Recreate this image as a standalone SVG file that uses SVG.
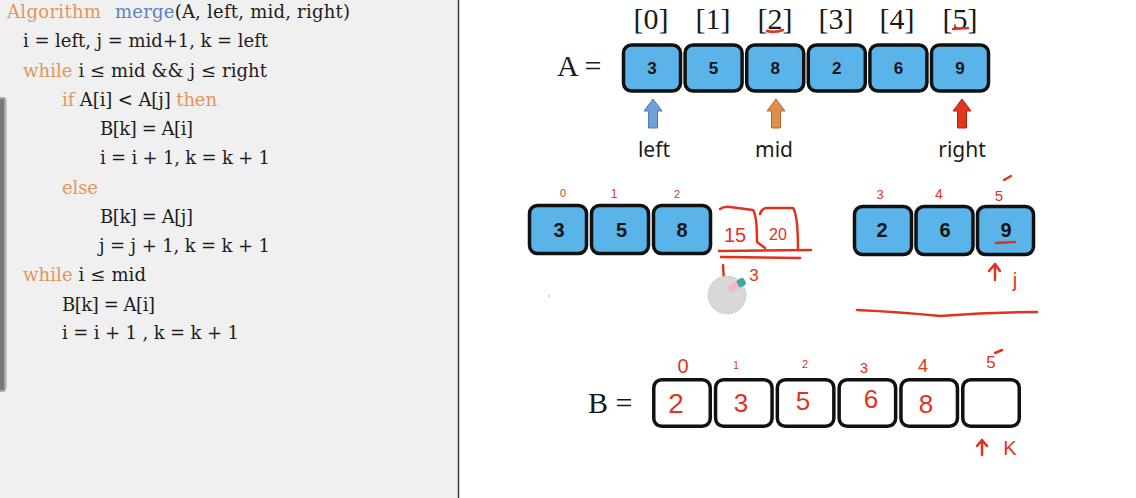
<svg xmlns="http://www.w3.org/2000/svg" width="1136" height="498" viewBox="0 0 1136 498">
<style>
.code{font-family:"DejaVu Serif","Liberation Serif",serif;font-size:18px;fill:#1c1c1c}
.kw{fill:#e3955c}
.fn{fill:#5b80c6}
.idx{font-family:"Liberation Serif",serif;font-size:30px;fill:#1a1a1a;text-anchor:middle}
.lbl{font-family:"Liberation Serif",serif;font-size:30px;fill:#1a1a1a}
.cell{fill:#5ab4ea;stroke:#111;stroke-width:3.5}
.wcell{fill:#fff;stroke:#111;stroke-width:3.5}
.num{font-family:"Liberation Sans",Arial,sans-serif;font-weight:bold;font-size:17px;fill:#141414;text-anchor:middle}
.num2{font-family:"Liberation Sans",Arial,sans-serif;font-weight:bold;font-size:20px;fill:#141414;text-anchor:middle}
.ptr{font-family:"Noto Sans","Liberation Sans",sans-serif;font-size:21px;fill:#1a1a1a;text-anchor:middle}
.hw{font-family:"Liberation Sans",Arial,sans-serif;fill:#e0321f;text-anchor:middle}
.ink{fill:none;stroke:#e0321f;stroke-width:2.5;stroke-linecap:round;stroke-linejoin:round}
</style>
<rect x="0" y="0" width="1136" height="498" fill="#ffffff"/>
<rect x="0" y="0" width="458" height="498" fill="#f0f0f0"/>
<line x1="458.5" y1="0" x2="458.5" y2="498" stroke="#3a3a3a" stroke-width="1.5"/>
<path d="M0,97 H3 Q6.5,97 6.5,101 V387 Q6.5,392 2,392 H0 Z" fill="#a9a9a9"/>
<rect x="0" y="99" width="4" height="291" fill="#787878"/>

<g id="code">
<text class="code kw" x="7" y="18" textLength="94">Algorithm</text>
<text class="code" x="115" y="18" textLength="235"><tspan class="fn">merge</tspan>(A, left, mid, right)</text>
<text class="code" x="23" y="47" textLength="245">i = left, j = mid+1, k = left</text>
<text class="code" x="23" y="77" textLength="244"><tspan class="kw">while</tspan> i ≤ mid &amp;&amp; j ≤ right</text>
<text class="code" x="62" y="106" textLength="155"><tspan class="kw">if</tspan> A[i] &lt; A[j] <tspan class="kw">then</tspan></text>
<text class="code" x="100" y="135" textLength="93">B[k] = A[i]</text>
<text class="code" x="100" y="164" textLength="170">i = i + 1, k = k + 1</text>
<text class="code kw" x="62" y="194" textLength="36">else</text>
<text class="code" x="100" y="223" textLength="93">B[k] = A[j]</text>
<text class="code" x="99" y="252" textLength="171">j = j + 1, k = k + 1</text>
<text class="code" x="23" y="281" textLength="123"><tspan class="kw">while</tspan> i ≤ mid</text>
<text class="code" x="62" y="311" textLength="93">B[k] = A[i]</text>
<text class="code" x="62" y="339" textLength="177">i = i + 1 , k = k + 1</text>
</g>

<g id="indexA">
<text class="idx" x="651" y="29">[0]</text>
<text class="idx" x="713" y="29">[1]</text>
<text class="idx" x="775" y="29">[2]</text>
<text class="idx" x="836" y="29">[3]</text>
<text class="idx" x="897" y="29">[4]</text>
<text class="idx" x="960" y="29">[5]</text>
<path class="ink" d="M767,31 Q775,33 783,30"/>
<path class="ink" d="M953,29 L968,28"/>
</g>

<text class="lbl" x="557" y="76">A =</text>
<g id="A0"><rect class="cell" x="623.5" y="45" width="57" height="46" rx="8"/><text class="num" x="652" y="74">3</text></g>
<g id="A1"><rect class="cell" x="685.1" y="45" width="57" height="46" rx="8"/><text class="num" x="713.6" y="74">5</text></g>
<g id="A2"><rect class="cell" x="746.7" y="45" width="57" height="46" rx="8"/><text class="num" x="775.2" y="74">8</text></g>
<g id="A3"><rect class="cell" x="808.3" y="45" width="57" height="46" rx="8"/><text class="num" x="836.8" y="74">2</text></g>
<g id="A4"><rect class="cell" x="869.9" y="45" width="57" height="46" rx="8"/><text class="num" x="898.4" y="74">6</text></g>
<g id="A5"><rect class="cell" x="931.5" y="45" width="57" height="46" rx="8"/><text class="num" x="960" y="74">9</text></g>

<g id="connectors">
<path d="M653,99 L662,111 L657.5,111 L657.5,128 L648.5,128 L648.5,111 L644,111 Z" fill="#6fa0d8" stroke="#4f7bb3" stroke-width="1"/>
<path d="M776,99 L785,111 L780.5,111 L780.5,128 L771.5,128 L771.5,111 L767,111 Z" fill="#e08e4c" stroke="#b56a2c" stroke-width="1"/>
<path d="M962,99 L971,111 L966.5,111 L966.5,128 L957.5,128 L957.5,111 L953,111 Z" fill="#e2341e" stroke="#a82412" stroke-width="1"/>
</g>
<g id="labels">
<text class="ptr" x="654" y="157">left</text>
<text class="ptr" x="774" y="157">mid</text>
<text class="ptr" x="962" y="157">right</text>
</g>

<g id="L0"><rect class="cell" x="529.5" y="205.5" width="57" height="48" rx="8"/><text class="num2" x="559" y="237">3</text></g>
<g id="L1"><rect class="cell" x="591.5" y="205.5" width="57" height="48" rx="8"/><text class="num2" x="621.5" y="237">5</text></g>
<g id="L2"><rect class="cell" x="653.5" y="205.5" width="57" height="48" rx="8"/><text class="num2" x="682" y="237">8</text></g>
<g id="R0"><rect class="cell" x="854.5" y="206.5" width="57" height="48" rx="8"/><text class="num2" x="882" y="237">2</text></g>
<g id="R1"><rect class="cell" x="916" y="206.5" width="57" height="48" rx="8"/><text class="num2" x="945" y="237">6</text></g>
<g id="R2"><rect class="cell" x="977.5" y="206.5" width="56" height="48" rx="8"/><text class="num2" x="1006" y="237">9</text></g>

<g id="annotations">
<text class="hw" x="563" y="197" font-size="11">0</text>
<text class="hw" x="614" y="198" font-size="12">1</text>
<text class="hw" x="677" y="198" font-size="11">2</text>
<text class="hw" x="880" y="199" font-size="13">3</text>
<text class="hw" x="939" y="199" font-size="14">4</text>
<text class="hw" x="999" y="201" font-size="15">5</text>
<path class="ink" d="M1004,180 L1011,176" stroke-width="1.8"/>
<path class="ink" d="M996,243 L1015,242"/>
<path class="ink" d="M720,209 Q724,206 730,207 L753,210 Q757,215 757,242 L765,248"/>
<path class="ink" d="M760,214 Q762,208 767,208 L793,208 Q798,215 798,250"/>
<text class="hw" x="735" y="242" font-size="20">15</text>
<text class="hw" x="778" y="240" font-size="16">20</text>
<path class="ink" d="M719,251 L811,250" stroke-width="3"/>
<path class="ink" d="M721,257 L800,258" stroke-width="2"/>
<path class="ink" d="M723,265 L724,282 L730,280"/>
<text class="hw" x="754" y="281" font-size="17">3</text>
<path class="ink" d="M995,280 L995,264 M989,271 L995,264 L1000,271"/>
<text class="hw" x="1015" y="287" font-size="20">j</text>
<path class="ink" d="M857,310 Q900,312 940,316 Q990,312 1037,312"/>
<circle cx="549" cy="296" r="0.9" fill="#e6a39a"/>
</g>

<g id="cursor">
<circle cx="727" cy="295" r="19" fill="#d8d8d8" stroke="#bdbdbd" stroke-width="1" stroke-dasharray="1.5 1.5"/>
<g transform="translate(737,285) rotate(-30)">
<rect x="-9" y="-4" width="11" height="8" rx="2" fill="#f2b6cf"/>
<rect x="1" y="-4" width="8" height="8" rx="2" fill="#3fa99a"/>
</g>
</g>

<text class="lbl" x="588" y="413">B =</text>
<g id="B0"><rect class="wcell" x="653.75" y="379.75" width="56.5" height="46.5" rx="8"/><text class="hw" x="676" y="413" font-size="28">2</text></g>
<g id="B1"><rect class="wcell" x="715.55" y="379.75" width="56.5" height="46.5" rx="8"/><text class="hw" x="741" y="412" font-size="26">3</text></g>
<g id="B2"><rect class="wcell" x="777.35" y="379.75" width="56.5" height="46.5" rx="8"/><text class="hw" x="803" y="410" font-size="26">5</text></g>
<g id="B3"><rect class="wcell" x="839.15" y="379.75" width="56.5" height="46.5" rx="8"/><text class="hw" x="871" y="408" font-size="26">6</text></g>
<g id="B4"><rect class="wcell" x="900.95" y="379.75" width="56.5" height="46.5" rx="8"/><text class="hw" x="926" y="413" font-size="26">8</text></g>
<g id="B5"><rect class="wcell" x="962.75" y="379.75" width="56.5" height="46.5" rx="8"/></g>

<g id="indexB">
<text class="hw" x="683" y="373" font-size="20">0</text>
<text class="hw" x="736" y="369" font-size="10">1</text>
<text class="hw" x="805" y="368" font-size="11">2</text>
<text class="hw" x="864" y="373" font-size="15">3</text>
<text class="hw" x="923" y="372" font-size="18">4</text>
<text class="hw" x="991" y="368" font-size="17">5</text>
<path class="ink" d="M995,353 L1002,350" stroke-width="1.8"/>
<path class="ink" d="M982,455 L982,440 M977,446 L982,440 L987,446"/>
<text class="hw" x="1010" y="455" font-size="20">K</text>
</g>
</svg>
